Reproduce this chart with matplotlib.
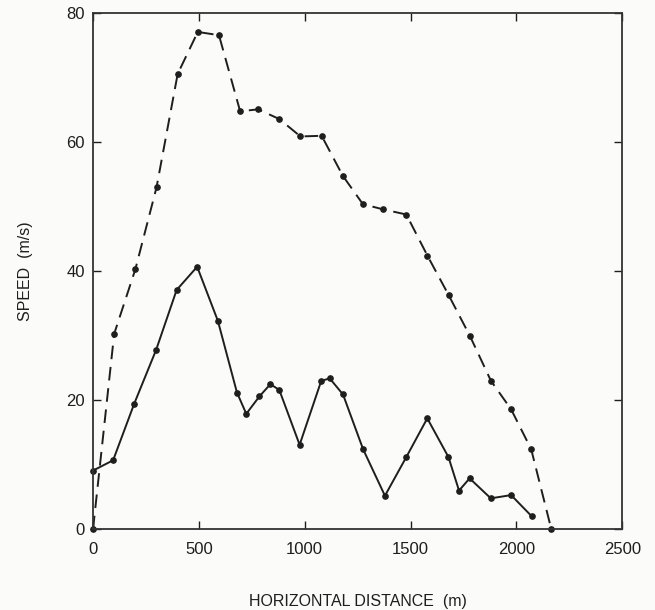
import matplotlib
matplotlib.use("Agg")
import matplotlib.pyplot as plt

plt.rcParams['font.family'] = ['Liberation Sans', 'DejaVu Sans']

# Dashed series (upper)
dash_x = [0, 100, 200, 300, 400, 495, 595, 695, 780, 880, 980, 1080, 1180,
          1275, 1370, 1480, 1580, 1680, 1780, 1880, 1975, 2070, 2165]
dash_y = [0, 30.3, 40.3, 53.0, 70.6, 77.1, 76.6, 64.8, 65.1, 63.6, 60.9, 61.0, 54.8,
          50.4, 49.6, 48.8, 42.4, 36.3, 30.0, 23.0, 18.6, 12.4, 0]

# Solid series (lower)
solid_x = [0, 95, 195, 298, 395, 492, 590, 680, 724, 786, 838, 880, 976, 1078,
           1118, 1181, 1276, 1379, 1480, 1579, 1679, 1729, 1779, 1879, 1975, 2073]
solid_y = [9.1, 10.7, 19.5, 27.8, 37.1, 40.7, 32.3, 21.2, 17.9, 20.6, 22.5, 21.6,
           13.1, 23.0, 23.4, 20.9, 12.4, 5.2, 11.2, 17.2, 11.2, 6.0, 7.9, 4.8, 5.3, 2.0]

x_ticks = [0, 500, 1000, 1500, 2000, 2500]
y_ticks = [0, 20, 40, 60, 80]

fig = plt.figure(figsize=(6.55, 6.1), dpi=100, facecolor='#fbfbfa')
ax = fig.add_axes([0.142, 0.1323, 0.808, 0.846])
ax.set_facecolor('#fbfbfa')

ink = '#1e1e1e'
ax.plot(dash_x, dash_y, color=ink, lw=1.4, dashes=(7, 4), marker='o', ms=3.8,
        mfc=ink, mec=ink, clip_on=False)
ax.plot(solid_x, solid_y, color=ink, lw=1.4, marker='o', ms=3.8,
        mfc=ink, mec=ink, clip_on=False)

ax.set_xlim(0, 2500)
ax.set_ylim(0, 80)
ax.set_xticks(x_ticks)
ax.set_yticks(y_ticks)
ax.tick_params(direction='in', top=True, right=True, length=6, width=1,
               labelsize=12, colors=ink, pad=6)
ax.tick_params(axis='x', pad=9)
for s in ax.spines.values():
    s.set_color('#333333')
    s.set_linewidth(1.3)

ax.set_xlabel('HORIZONTAL DISTANCE  (m)', fontsize=11.5, color=ink, labelpad=27)
ax.set_ylabel('SPEED  (m/s)', fontsize=11.5, color=ink, labelpad=24)

fig.savefig('out.png', dpi=100, facecolor=fig.get_facecolor())
